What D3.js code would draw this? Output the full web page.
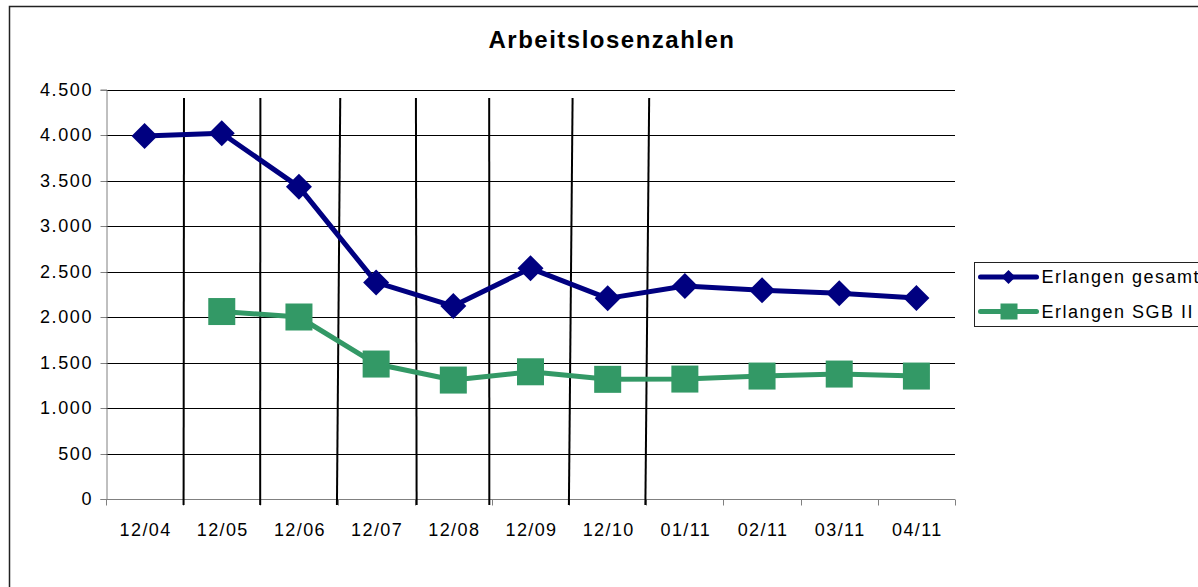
<!DOCTYPE html>
<html>
<head>
<meta charset="utf-8">
<script src="https://cdn.jsdelivr.net/npm/d3@7"></script>
<style>
    html, body { margin: 0; padding: 0; background: #fff; overflow: hidden; }
    svg { display: block; font-family: "Liberation Sans", Arial, sans-serif; }
</style>
</head>
<body>
<svg id="chart" width="1198" height="587"></svg>
<script>
const title = "Arbeitslosenzahlen"
const months = ["12/04", "12/05", "12/06", "12/07", "12/08", "12/09", "12/10", "01/11", "02/11", "03/11", "04/11"]
const gesamt = [3990, 4020, 3430, 2380, 2120, 2535, 2205, 2340, 2295, 2260, 2210]
const sgb2 = [null, 2060, 2000, 1483, 1307, 1398, 1315, 1318, 1351, 1373, 1351]
const seriesNames = ["Erlangen gesamt", "Erlangen SGB II"]
const yTicks = [0, 500, 1000, 1500, 2000, 2500, 3000, 3500, 4000, 4500]
// hand drawn separators sit after these months
const separatorsAfter = ["12/04", "12/05", "12/06", "12/07", "12/08", "12/09", "12/10"]

// the separators were drawn by hand, so they wobble a little
const sepTilt = [[0.8, 0.4], [0, -0.2], [2.7, -0.6], [1.2, 1.9], [-2.7, -2.6], [3.5, -0.2], [2.9, -0.9]]

const svg = d3.select("#chart")
const margin = {left: 106, right: 243, top: 89.5, bottom: 88}
const width = 1198 - margin.left - margin.right
const height = 587 - margin.top - margin.bottom

const de = d3.formatLocale({decimal: ",", thousands: ".", grouping: [3], currency: ["", " €"]})
const fmt = de.format(",d")

const x = d3.scaleBand().domain(months).range([margin.left, margin.left + width])
const y = d3.scaleLinear().domain([0, 4500]).range([margin.top + height, margin.top])
const cx = d => x(d) + x.bandwidth() / 2
const snap = v => Math.round(v) + 0.5

// outer frame of the chart area
svg.append("rect")
    .attr("x", 9.5).attr("y", 6.5)
    .attr("width", 1220).attr("height", 600)
    .attr("fill", "none").attr("stroke", "#222").attr("stroke-width", 1.5)

svg.append("text")
    .attr("x", 612).attr("y", 48)
    .attr("text-anchor", "middle")
    .attr("font-size", 24).attr("font-weight", "bold")
    .attr("letter-spacing", 1.5)
    .text(title)

// gridlines
svg.append("g")
    .selectAll("line")
    .data(yTicks.filter(t => t > 0))
    .enter()
    .append("line")
    .attr("x1", margin.left).attr("x2", margin.left + width)
    .attr("y1", d => snap(y(d))).attr("y2", d => snap(y(d)))
    .attr("stroke", "#000").attr("stroke-width", 1)

// y axis
const yAxis = svg.append("g")
    .attr("transform", `translate(${snap(margin.left)},0)`)
    .call(d3.axisLeft(y).tickValues(yTicks).tickFormat(fmt).tickSize(6).tickPadding(8))
yAxis.select(".domain").attr("stroke", "#808080")
yAxis.selectAll(".tick line").attr("stroke", "#808080")
yAxis.selectAll(".tick").attr("transform", d => `translate(0,${snap(y(d))})`)
yAxis.selectAll("text")
    .attr("font-size", 18).attr("letter-spacing", 1.6)
    .attr("font-family", "Liberation Sans, Arial, sans-serif")
    .attr("fill", "#000")
    .attr("x", -13.5)

// x axis, ticks between the categories
const xAxis = svg.append("g")
    .attr("transform", `translate(0,${snap(y(0))})`)
xAxis.append("line")
    .attr("x1", margin.left).attr("x2", margin.left + width)
    .attr("stroke", "#808080")
xAxis.selectAll("line.tick")
    .data(d3.range(months.length + 1))
    .enter()
    .append("line")
    .attr("class", "tick")
    .attr("x1", i => snap(margin.left + i * x.bandwidth()))
    .attr("x2", i => snap(margin.left + i * x.bandwidth()))
    .attr("y1", 0).attr("y2", 6)
    .attr("stroke", "#808080")
xAxis.selectAll("text")
    .data(months)
    .enter()
    .append("text")
    .attr("x", d => cx(d) + 1)
    .attr("y", 36)
    .attr("text-anchor", "middle")
    .attr("font-size", 18).attr("letter-spacing", 1.4)
    .text(d => d)

// the hand drawn separators
svg.append("g")
    .selectAll("line")
    .data(separatorsAfter)
    .enter()
    .append("line")
    .attr("x1", (d, i) => x(d) + x.bandwidth() + sepTilt[i][0])
    .attr("x2", (d, i) => x(d) + x.bandwidth() + sepTilt[i][1])
    .attr("y1", 98).attr("y2", y(0) + 6)
    .attr("stroke", "#000").attr("stroke-width", 2)

const line = d3.line()
    .defined(d => d.v != null)
    .x(d => cx(d.m))
    .y(d => y(d.v))

const rows = s => months.map((m, i) => ({m, v: s[i]})).filter(d => d.v != null)

const diamond = r => `M0,${-r}L${r},0L0,${r}L${-r},0Z`

function drawSeries(values, color, marker) {
    const pts = rows(values)
    svg.append("path")
        .datum(pts)
        .attr("d", line)
        .attr("fill", "none")
        .attr("stroke", color).attr("stroke-width", 5)
        .attr("stroke-linejoin", "round")
    const g = svg.append("g")
    if (marker === "diamond") {
        g.selectAll("path")
            .data(pts)
            .enter()
            .append("path")
            .attr("transform", d => `translate(${cx(d.m)},${y(d.v)})`)
            .attr("d", diamond(13))
            .attr("fill", color)
    } else {
        g.selectAll("rect")
            .data(pts)
            .enter()
            .append("rect")
            .attr("x", d => cx(d.m) - 13.5).attr("y", d => y(d.v) - 13.5)
            .attr("width", 27).attr("height", 27)
            .attr("fill", color)
    }
}

const colors = ["#000080", "#339966"]
drawSeries(sgb2, colors[1], "square")
drawSeries(gesamt, colors[0], "diamond")

// legend, cut by the right edge just like the original screenshot
const legend = svg.append("g").attr("transform", "translate(974.5,262.5)")
legend.append("rect")
    .attr("width", 260).attr("height", 64)
    .attr("fill", "#fff").attr("stroke", "#222").attr("stroke-width", 1)

seriesNames.forEach((name, i) => {
    const row = legend.append("g").attr("transform", `translate(0,${14.5 + i * 34.5})`)
    row.append("line")
        .attr("x1", 6).attr("x2", 62)
        .attr("stroke", colors[i]).attr("stroke-width", 5)
        .attr("stroke-linecap", "round")
    if (i === 0) {
        row.append("path").attr("transform", "translate(34,0)").attr("d", diamond(7)).attr("fill", colors[i])
    } else {
        row.append("rect").attr("x", 26).attr("y", -8).attr("width", 17).attr("height", 16).attr("fill", colors[i])
    }
    row.append("text")
        .attr("x", 67).attr("dy", "0.36em")
        .attr("font-size", 18).attr("letter-spacing", 1.5)
        .text(name)
})
</script>
</body>
</html>
